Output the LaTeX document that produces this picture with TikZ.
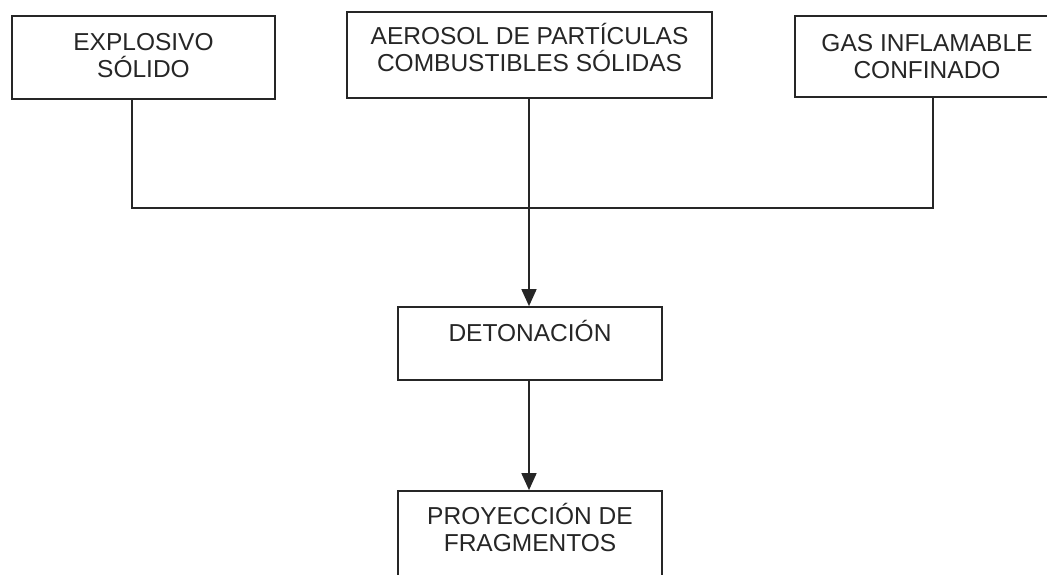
\documentclass[tikz,border=0pt]{standalone}
\usepackage{fontspec}
\setmainfont{Liberation Sans}
\usetikzlibrary{arrows.meta}
\definecolor{ink}{HTML}{262626}
\begin{document}
\begin{tikzpicture}[x=1pt,y=-1pt,
  box/.style={draw=ink, line width=1.7pt, rectangle, inner sep=0pt, fill=white},
  txt/.style={align=center, inner sep=0pt, anchor=south, text=ink, font=\fontsize{24.5}{27}\selectfont},
  conn/.style={draw=ink, line width=1.6pt},
  arr/.style={conn, -{Triangle[width=15pt,length=17pt]}}]
\useasboundingbox (0,0) rectangle (1047,575);
\clip (0,0) rectangle (1047,575);
% boxes
\node[box, minimum width=263pt, minimum height=83pt] (b1) at (143.5,57.5) {};
\node[box, minimum width=365pt, minimum height=86pt] (b2) at (529.5,55) {};
\node[box, minimum width=264pt, minimum height=81pt] (b3) at (927,56.5) {};
\node[box, minimum width=264pt, minimum height=73pt] (det) at (530,343.5) {};
\node[box, minimum width=264pt, minimum height=109pt] (proy) at (530,545.5) {};
% texts
\node[txt] (t1) at (143.5,78) {EXPLOSIVO\\SÓLIDO};
\node[txt] (t2) at (529.5,72) {AEROSOL DE PARTÍCULAS\\COMBUSTIBLES SÓLIDAS};
\node[txt] (t3) at (927,79) {GAS INFLAMABLE\\CONFINADO};
\node[txt] (t4) at (530,342) {DETONACIÓN};
\node[txt] (t5) at (530,552) {PROYECCIÓN DE\\FRAGMENTOS};
% connectors
\coordinate (j) at (529,208);
\draw[conn] ([xshift=-11.5pt]b1.south) |- (j) -| ([xshift=6pt]b3.south);
\draw[conn] (b2.south -| j) -- (j);
\draw[arr] (j) -- (det.north -| j);
\draw[arr] (det.south -| j) -- (proy.north -| j);
\end{tikzpicture}
\end{document}
